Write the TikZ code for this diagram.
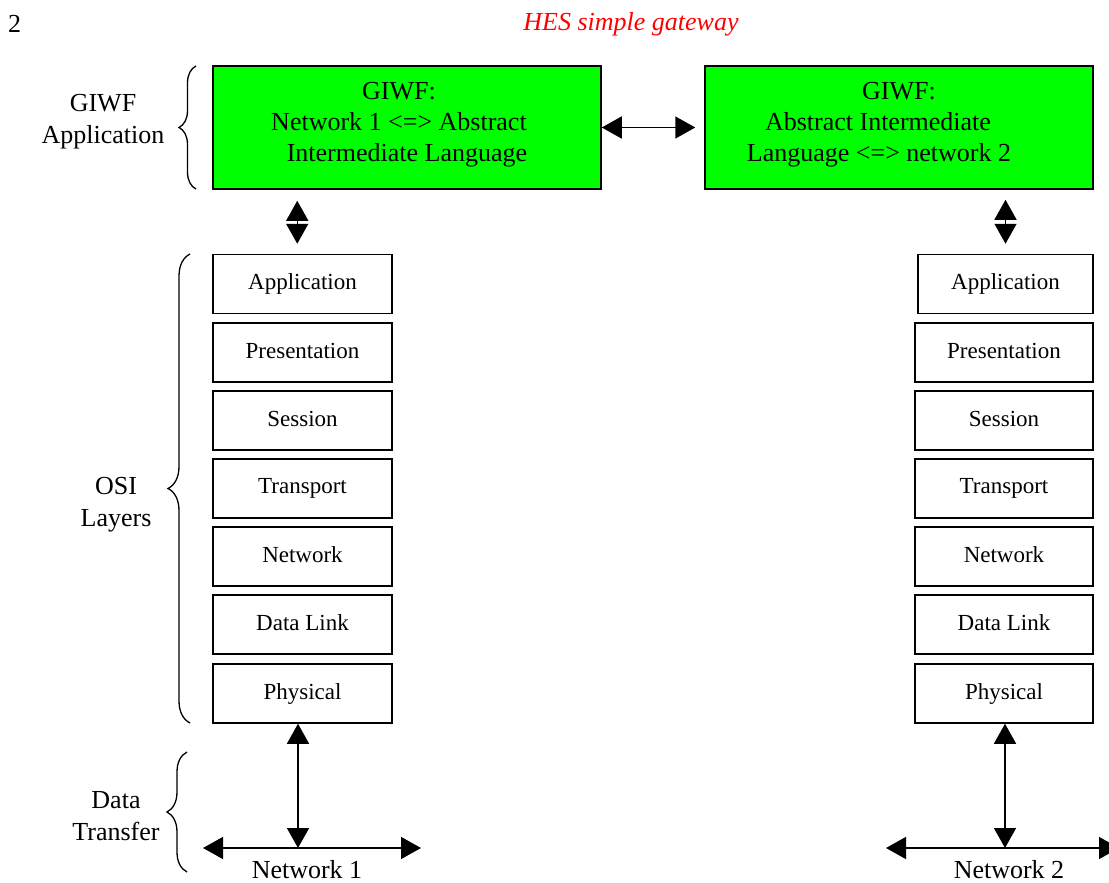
\documentclass[tikz,border=0pt]{standalone}
\usepackage{fontspec}
\setmainfont{Liberation Serif}
\usetikzlibrary{arrows.meta,decorations.pathreplacing,calc}
\definecolor{giwfgreen}{HTML}{00FF00}
\begin{document}
\begin{tikzpicture}[x=1pt,y=-1pt,
  giwf/.style={draw, line width=1.5pt, fill=giwfgreen, minimum width=388pt, minimum height=123pt, inner sep=0pt},
  gtext/.style={align=center, inner sep=0pt, font=\fontsize{26}{31}\selectfont},
  layer/.style={draw, line width=1.5pt, minimum height=59pt, inner sep=0pt, font=\fontsize{23}{27}\selectfont},
  lbl/.style={align=center, inner sep=0pt, font=\fontsize{26}{32}\selectfont},
  dbl/.style={line width=1.5pt, {Triangle[length=20pt,width=22pt]}-{Triangle[length=20pt,width=22pt]}},
  brc/.style={decorate, decoration={brace, amplitude=#1}, line width=1.3pt}
]
\useasboundingbox (0,0) rectangle (1109,883);

% header
\node[lbl, anchor=west] (pg) at (8,24) {2};
\node[lbl, text=red, font=\fontsize{26}{32}\selectfont\itshape] (hdr) at (631,24) {HES simple gateway};

% GIWF boxes
\node[giwf] (g1) at (407,127.5) {};
\node[gtext] (g1t) at (g1.center) [yshift=2.5pt] {\hspace*{-16pt}GIWF:\\\hspace*{-16pt}Network 1 <=> Abstract\\Intermediate Language};
\node[giwf] (g2) at (899,127.5) {};
\node[gtext] (g2t) at (g2.center) [yshift=2.5pt] {GIWF:\\\hspace*{-42pt}Abstract Intermediate\\\hspace*{-40pt}Language <=> network 2};

% left layers
\node[layer, minimum width=179pt] (l1) at (302.5,284) {\raisebox{4pt}{Application}};
\node[layer, minimum width=179pt] (l2) at (302.5,352.5) {\raisebox{4pt}{Presentation}};
\node[layer, minimum width=179pt] (l3) at (302.5,420.5) {\raisebox{4pt}{Session}};
\node[layer, minimum width=179pt] (l4) at (302.5,488.5) {\raisebox{4pt}{Transport}};
\node[layer, minimum width=179pt] (l5) at (302.5,556.5) {\raisebox{4pt}{Network}};
\node[layer, minimum width=179pt] (l6) at (302.5,624.5) {\raisebox{4pt}{Data Link}};
\node[layer, minimum width=179pt] (l7) at (302.5,693.5) {\raisebox{4pt}{Physical}};

% right layers
\node[layer, minimum width=175pt] (r1) at (1005.5,284) {\raisebox{4pt}{Application}};
\node[layer, minimum width=178pt] (r2) at (1004,352.5) {\raisebox{4pt}{Presentation}};
\node[layer, minimum width=178pt] (r3) at (1004,420.5) {\raisebox{4pt}{Session}};
\node[layer, minimum width=178pt] (r4) at (1004,488.5) {\raisebox{4pt}{Transport}};
\node[layer, minimum width=178pt] (r5) at (1004,556.5) {\raisebox{4pt}{Network}};
\node[layer, minimum width=178pt] (r6) at (1004,624.5) {\raisebox{4pt}{Data Link}};
\node[layer, minimum width=178pt] (r7) at (1004,693.5) {\raisebox{4pt}{Physical}};

% arrows between GIWF boxes and stacks
\draw[dbl, shorten >=9pt] (g1.east) -- (g2.west);
\draw[dbl] ($(g1.south west)+(85,11)$) -- ($(l1.north west)+(85,-10)$);
\draw[dbl] ($(r1.north)+(0,-54)$) -- ($(r1.north)+(0,-10)$);

% network 1
\coordinate (n1) at (298,848);
\coordinate (n1w) at (203,848);
\coordinate (n1e) at (421,848);
\draw[dbl] (l7.south -| n1) -- (n1);
\draw[dbl] (n1w) -- (n1e);
\node[lbl] (net1) at (307,870) {Network 1};

% network 2
\coordinate (n2) at (1005,848);
\coordinate (n2w) at (886,848);
\coordinate (n2e) at (1119,848);
\draw[dbl] (r7.south -| n2) -- (n2);
\draw[dbl] (n2w) -- (n2e);
\node[lbl] (net2) at (1009,870) {Network 2};

% braces and labels
\draw[brc=17pt] (196,189) -- (196,66);
\node[lbl] (giwfl) at (103,122) {GIWF\\Application};
\draw[brc=22pt] (190,723) -- (190,254);
\node[lbl] (osil) at (116,505) {OSI\\Layers};
\draw[brc=20pt] (187,872) -- (187,752);
\node[lbl] (dtl) at (116,816) {Data\\Transfer};
\end{tikzpicture}
\end{document}
